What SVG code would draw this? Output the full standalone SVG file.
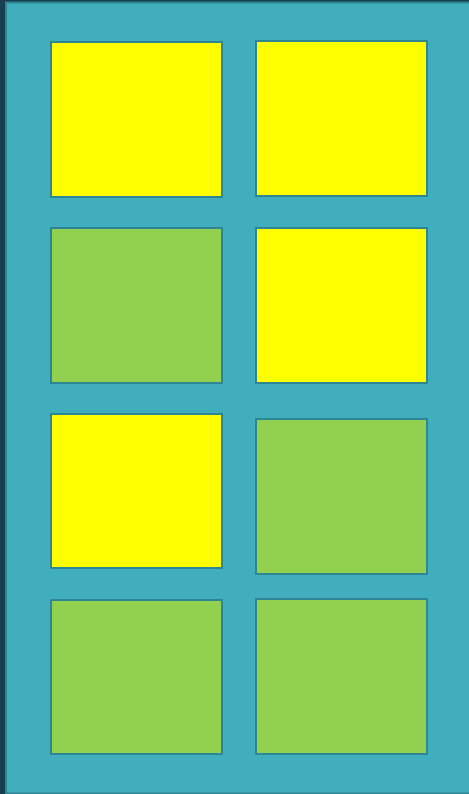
<svg xmlns="http://www.w3.org/2000/svg" width="469" height="794" viewBox="0 0 469 794">
<style>
.box{stroke:#2e8593;stroke-width:2}
.y{fill:#ffff00}
.g{fill:#92d050}
</style>
<rect x="0" y="0" width="469" height="794" fill="#163f52"/>
<rect x="6" y="2.5" width="464" height="791" fill="#41aebd" stroke="#2e8593" stroke-width="2"/>
<g id="nodes">
<g id="n1"><rect class="box y" x="51" y="42" width="171" height="155"/></g>
<g id="n2"><rect class="box y" x="256" y="41" width="171" height="155"/></g>
<g id="n3"><rect class="box g" x="51" y="228" width="171" height="155"/></g>
<g id="n4"><rect class="box y" x="256" y="228" width="171" height="155"/></g>
<g id="n5"><rect class="box y" x="51" y="414" width="171" height="154"/></g>
<g id="n6"><rect class="box g" x="256" y="419" width="171" height="155"/></g>
<g id="n7"><rect class="box g" x="51" y="600" width="171" height="154"/></g>
<g id="n8"><rect class="box g" x="256" y="599" width="171" height="155"/></g>
</g>
<g id="connectors"></g>
</svg>
